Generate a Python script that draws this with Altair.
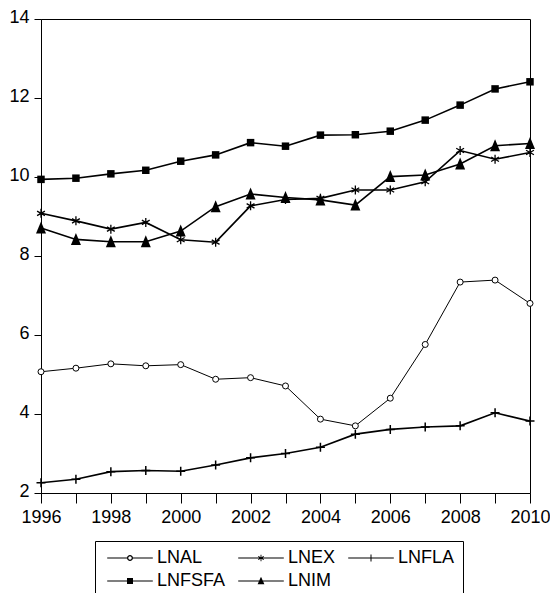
import math
import altair as alt
import pandas as pd

years = list(range(1996, 2011))
series_names = ["LNAL", "LNEX", "LNFLA", "LNFSFA", "LNIM"]
LNAL = [5.07, 5.16, 5.27, 5.22, 5.25, 4.88, 4.92, 4.71, 3.87, 3.70, 4.40, 5.76, 7.34, 7.39, 6.80]
LNEX = [9.08, 8.89, 8.68, 8.85, 8.41, 8.35, 9.27, 9.43, 9.46, 9.67, 9.67, 9.88, 10.67, 10.45, 10.62]
LNFLA = [2.26, 2.35, 2.54, 2.57, 2.55, 2.71, 2.89, 3.00, 3.16, 3.49, 3.61, 3.67, 3.70, 4.03, 3.82]
LNFSFA = [9.94, 9.97, 10.08, 10.17, 10.40, 10.56, 10.87, 10.78, 11.06, 11.07, 11.16, 11.44, 11.82, 12.23, 12.41]
LNIM = [8.71, 8.42, 8.36, 8.36, 8.63, 9.25, 9.57, 9.48, 9.42, 9.29, 10.01, 10.05, 10.33, 10.79, 10.85]
y_ticks = [2, 4, 6, 8, 10, 12, 14]

values = {"LNAL": LNAL, "LNEX": LNEX, "LNFLA": LNFLA, "LNFSFA": LNFSFA, "LNIM": LNIM}
rows = []
for s in series_names:
    for yr, v in zip(years, values[s]):
        rows.append({"year": yr, "series": s, "value": v})
df = pd.DataFrame(rows)

FONT = "Liberation Sans, Arial, sans-serif"
FS = 18

STAR = "M0,-1L0,1M-0.87,-0.5L0.87,0.5M-0.87,0.5L0.87,-0.5"
PLUS = "M-1,0L1,0M0,-1L0,1"
TRI = "M0,-1.3L1,1.1L-1,1.1Z"


# ---- legend glyphs built only from filled polygons (consistent winding) ----
def poly(pts):
    s = sum(pts[i][0] * pts[(i + 1) % len(pts)][1] - pts[(i + 1) % len(pts)][0] * pts[i][1]
            for i in range(len(pts)))
    if s > 0:
        pts = pts[::-1]
    return "M" + "L".join(f"{x:.3f},{y:.3f}" for x, y in pts) + "Z"


def seg(x1, y1, x2, y2, w):
    dx, dy = x2 - x1, y2 - y1
    n = math.hypot(dx, dy)
    px, py = -dy / n * w / 2, dx / n * w / 2
    return poly([(x1 + px, y1 + py), (x2 + px, y2 + py), (x2 - px, y2 - py), (x1 - px, y1 - py)])


L = 5.7
LW = 0.3
ring = ("M0.75,0A0.75,0.75 0 1,0 -0.75,0A0.75,0.75 0 1,0 0.75,0Z"
        "M0.42,0A0.42,0.42 0 1,1 -0.42,0A0.42,0.42 0 1,1 0.42,0Z")
star_arms = "".join(
    seg(-0.8 * math.sin(a), -0.8 * math.cos(a), 0.8 * math.sin(a), 0.8 * math.cos(a), 0.22)
    for a in (0, math.pi / 3, -math.pi / 3)
)
leg_paths = [
    seg(-L, 0, -0.74, 0, LW) + seg(0.74, 0, L, 0, LW) + ring,
    seg(-L, 0, L, 0, LW) + star_arms,
    seg(-L, 0, L, 0, LW) + seg(0, -0.85, 0, 0.85, 0.25),
    seg(-L, 0, L, 0, LW) + poly([(-0.75, -0.75), (0.75, -0.75), (0.75, 0.75), (-0.75, 0.75)]),
    seg(-L, 0, L, 0, LW) + poly([(0, -1.05), (0.85, 0.8), (-0.85, 0.8)]),
]

x_enc = alt.X(
    "year:Q",
    scale=alt.Scale(domain=[1996, 2010], nice=False, zero=False),
    axis=alt.Axis(
        title=None,
        values=years,
        format="d",
        labelExpr="datum.value % 2 == 0 ? datum.label : ''",
        labelFlush=False,
        labelOverlap=False,
        tickSize=10,
        labelPadding=5,
        grid=False,
    ),
)
y_enc = alt.Y(
    "value:Q",
    scale=alt.Scale(domain=[2, 14], nice=False, zero=False),
    axis=alt.Axis(
        title=None,
        values=y_ticks,
        tickSize=7,
        labelPadding=5,
        grid=False,
        labelFlush=False,
        labelOverlap=False,
        labelOffset=-2,
    ),
)

base = alt.Chart(df).encode(x=x_enc, y=y_enc)

lines_thin = base.transform_filter(alt.datum.series == "LNAL").mark_line(
    color="black", strokeWidth=1
)
lines_thick = base.transform_filter(alt.datum.series != "LNAL").mark_line(
    color="black", strokeWidth=1.6
).encode(detail="series:N")

pts_al = base.transform_filter(alt.datum.series == "LNAL").mark_point(
    shape="circle", size=36, fill="white", stroke="black", strokeWidth=1, opacity=1
)
pts_ex = base.transform_filter(alt.datum.series == "LNEX").mark_point(
    shape=STAR, size=81, filled=False, stroke="black", strokeWidth=1.3, opacity=1
)
pts_fla = base.transform_filter(alt.datum.series == "LNFLA").mark_point(
    shape=PLUS, size=81, filled=False, stroke="black", strokeWidth=1.5, opacity=1
)
pts_fsfa = base.transform_filter(alt.datum.series == "LNFSFA").mark_point(
    shape="square", size=56, filled=True, color="black", opacity=1
)
pts_im = base.transform_filter(alt.datum.series == "LNIM").mark_point(
    shape=TRI, size=100, filled=True, color="black", opacity=1
)

legend_layer = (
    base.transform_filter(alt.datum.value < -1000)
    .mark_point(filled=True, color="black", opacity=1)
    .encode(
        shape=alt.Shape(
            "series:N",
            scale=alt.Scale(domain=series_names, range=leg_paths),
            legend=alt.Legend(
                title=None,
                orient="none",
                legendX=54,
                legendY=522,
                direction="horizontal",
                columns=3,
                gridAlign="each",
                columnPadding=8,
                rowPadding=5,
                padding=8,
                strokeColor="black",
                fillColor="white",
                labelFont=FONT,
                labelFontSize=FS,
                labelColor="black",
                symbolSize=64,
                symbolFillColor="black",
                symbolOffset=18,
                labelOffset=18,
            ),
        )
    )
)

chart = (
    alt.layer(
        lines_thin, lines_thick, pts_al, pts_ex, pts_fla, pts_fsfa, pts_im, legend_layer
    )
    .properties(
        width=489,
        height=474,
        autosize=alt.AutoSizeParams(type="none"),
        padding={"left": 33, "top": 11, "right": 20, "bottom": 100},
        background="white",
    )
    .configure_view(stroke="black", strokeWidth=1)
    .configure_axis(
        labelFont=FONT,
        labelFontSize=FS,
        labelColor="black",
        tickColor="black",
        domainColor="black",
        domainWidth=1,
        tickWidth=1,
    )
)

chart.save("out.html", embed_options={"renderer": "svg", "actions": False})
